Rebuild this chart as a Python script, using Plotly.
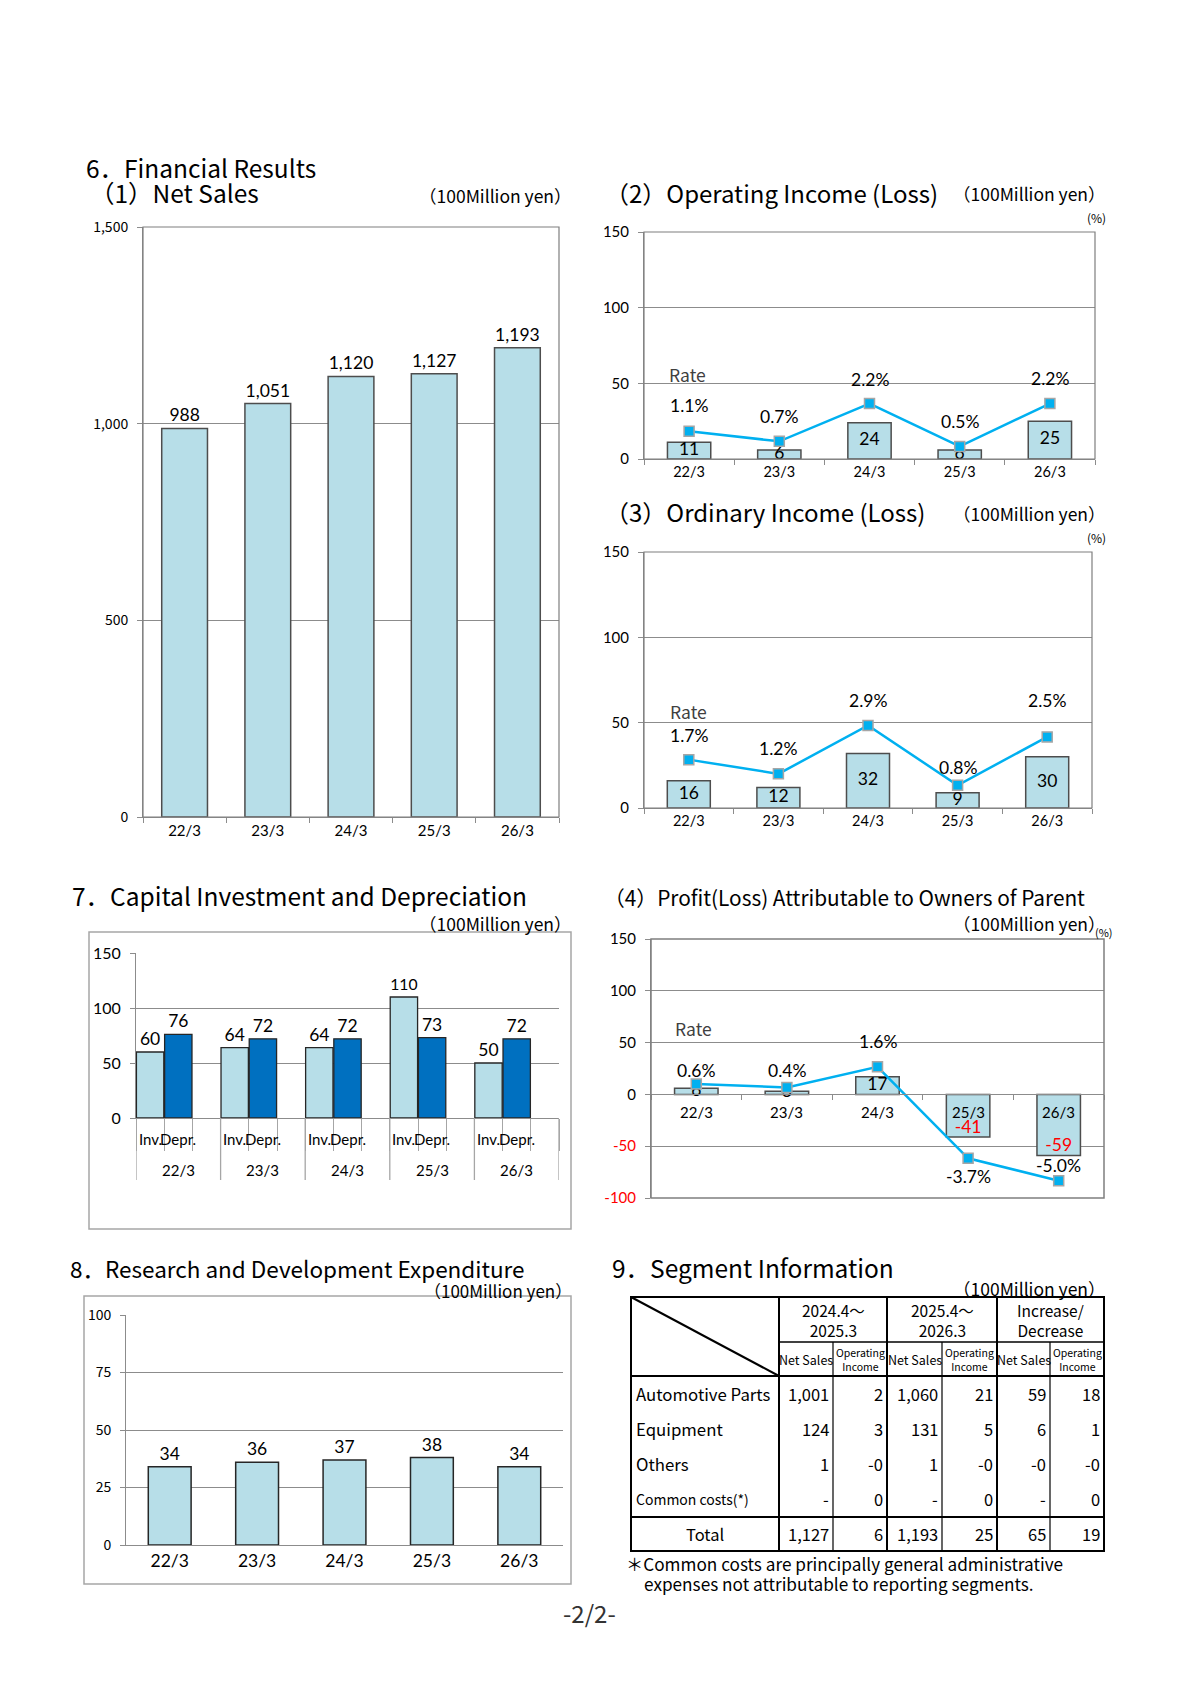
import plotly.graph_objects as go

# page size (the reference is one A4-ish sheet)
W, H = 1190, 1683
# the page body adds a small margin around the plot div
PAGE_OFF = 8

#%% Data
years = ["22/3", "23/3", "24/3", "25/3", "26/3"]

net_sales = [988, 1051, 1120, 1127, 1193]

op_income = [11, 6, 24, 6, 25]
op_rate = [1.1, 0.7, 2.2, 0.5, 2.2]

ord_income = [16, 12, 32, 9, 30]
ord_rate = [1.7, 1.2, 2.9, 0.8, 2.5]

profit = [6, 3, 17, -41, -59]
profit_rate = [0.6, 0.4, 1.6, -3.7, -5.0]

capex_inv = [60, 64, 64, 110, 50]
capex_depr = [76, 72, 72, 73, 72]
capex_sub = ["Inv.", "Depr."]

rnd = [34, 36, 37, 38, 34]

seg_names = ["Automotive Parts", "Equipment", "Others", "Common costs(*)"]
seg_periods = ["2024.4～<br>2025.3", "2025.4～<br>2026.3", "Increase/<br>Decrease"]
seg_sub = ["Net Sales", "Operating<br>Income"]
seg_prev_sales = ["1,001", "124", "1", "-"]
seg_prev_oi = ["2", "3", "-0", "0"]
seg_cur_sales = ["1,060", "131", "1", "-"]
seg_cur_oi = ["21", "5", "-0", "0"]
seg_diff_sales = ["59", "6", "-0", "-"]
seg_diff_oi = ["18", "1", "-0", "0"]
seg_total = ["1,127", "6", "1,193", "25", "65", "19"]

#%% Styles
LIGHT = "#b7dee8"
DARK = "#0070c0"
RATE = "#00b0f0"
EDGE = "#4d4d4d"
GRID = "#8c8c8c"
JP = "Noto Sans CJK JP"
NUM = "Lato"


def px(x):
    return (x - PAGE_OFF) / W


def py(y):
    return 1 - (y - PAGE_OFF) / H


def dom_x(a, b):
    return [px(a), px(b)]


def dom_y(top, bottom):
    return [py(bottom), py(top)]


fig = go.Figure()

# (1) Net sales
fig.add_trace(go.Bar(
    x=years, y=net_sales, xaxis="x", yaxis="y",
    marker=dict(color=LIGHT, line=dict(color=EDGE, width=1.5)),
    width=0.55, text=[f"{v:,}" for v in net_sales], textposition="outside",
    textfont=dict(family=NUM, size=17.5, color="black"), cliponaxis=False,
))


def income_chart(vals, rates, xa, ya, ra):
    fig.add_trace(go.Bar(
        x=years, y=vals, xaxis=xa, yaxis=ya,
        marker=dict(color=LIGHT, line=dict(color=EDGE, width=1.5)),
        width=0.48,
    ))
    pos = ["middle center" if v >= 0 else "top center" for v in vals]
    ty = [v / 2 if v >= 0 else v for v in vals]
    cols = ["black" if v >= 0 else "red" for v in vals]
    fig.add_trace(go.Scatter(
        x=years, y=ty, xaxis=xa, yaxis=ya, mode="text",
        text=[str(v) for v in vals], textposition=pos,
        textfont=dict(family=NUM, size=17.5, color=cols), cliponaxis=False,
    ))
    fig.add_trace(go.Scatter(
        x=years, y=rates, xaxis=xa, yaxis=ra, mode="lines+markers",
        line=dict(color=RATE, width=2.5),
        marker=dict(symbol="square", size=10, color=RATE,
                    line=dict(color="#a6a6a6", width=1.5)),
        cliponaxis=False,
    ))


# (2) operating, (3) ordinary, (4) profit
income_chart(op_income, op_rate, "x2", "y2", "y3")
income_chart(ord_income, ord_rate, "x3", "y4", "y5")
income_chart(profit, profit_rate, "x4", "y6", "y7")

# 7 capital investment: three slots per year (Inv, Depr, blank)
inv_x = [3 * i for i in range(len(years))]
depr_x = [3 * i + 1 for i in range(len(years))]
for xs, vals, col in [(inv_x, capex_inv, LIGHT), (depr_x, capex_depr, DARK)]:
    fig.add_trace(go.Bar(
        x=xs, y=vals, xaxis="x5", yaxis="y8",
        marker=dict(color=col, line=dict(color="#262626", width=1.3)),
        width=0.97, text=[str(v) for v in vals], textposition="outside",
        textfont=dict(family=NUM, size=17.5, color="black"), cliponaxis=False,
    ))

# 8 R&D
fig.add_trace(go.Bar(
    x=years, y=rnd, xaxis="x6", yaxis="y9",
    marker=dict(color=LIGHT, line=dict(color="#262626", width=1.5)),
    width=0.49, text=[str(v) for v in rnd], textposition="outside",
    textfont=dict(family=NUM, size=17.5, color="black"), cliponaxis=False,
))

#%% Axes
cat_x = dict(type="category", showgrid=False, zeroline=False, showline=True,
             linecolor=GRID, ticks="outside", tickson="boundaries", ticklen=5,
             tickcolor=GRID, automargin=False,
             tickfont=dict(family=NUM, size=14.5, color="black"))
val_y = dict(showgrid=True, gridcolor=GRID, gridwidth=1, zeroline=False,
             showline=True, linecolor=GRID, ticks="outside", ticklen=5,
             tickcolor=GRID, automargin=False, ticklabelstandoff=6,
             tickfont=dict(family=NUM, size=15, color="black"))
hidden = dict(showgrid=False, zeroline=False, showline=False, ticks="",
              showticklabels=False, automargin=False)

layout_axes = dict(
    xaxis=dict(cat_x, domain=dom_x(143, 559), anchor="y", tickfont=dict(family=NUM, size=15, color="black")),
    yaxis=dict(val_y, domain=dom_y(227, 817), anchor="x", range=[0, 1500],
               tickvals=[0, 500, 1000, 1500], ticktext=["0", "500", "1,000", "1,500"],
               tickfont=dict(family=JP, size=14, color="black")),
    xaxis2=dict(cat_x, domain=dom_x(644, 1095), anchor="y2"),
    yaxis2=dict(val_y, domain=dom_y(232, 459), anchor="x2", range=[0, 150],
                tickvals=[0, 50, 100, 150]),
    yaxis3=dict(hidden, overlaying="y2", anchor="x2", side="right", range=[0, 9]),
    xaxis3=dict(cat_x, domain=dom_x(644, 1092), anchor="y4"),
    yaxis4=dict(val_y, domain=dom_y(552, 808), anchor="x3", range=[0, 150],
                tickvals=[0, 50, 100, 150]),
    yaxis5=dict(hidden, overlaying="y4", anchor="x3", side="right", range=[0, 9]),
    xaxis4=dict(cat_x, domain=dom_x(651, 1104), anchor="free", position=py(1094),
                showticklabels=False),
    yaxis6=dict(val_y, domain=dom_y(939, 1198), anchor="x4", range=[-100, 150],
                tickvals=[-100, -50, 0, 50, 100, 150],
                ticktext=["<span style='color:red'>-100</span>",
                          "<span style='color:red'>-50</span>", "0", "50", "100", "150"]),
    yaxis7=dict(hidden, overlaying="y6", anchor="x4", side="right", range=[-6, 9]),
    xaxis5=dict(showgrid=False, zeroline=False, showline=True, linecolor=GRID,
                domain=dom_x(136, 559), anchor="y8", range=[-0.5, 14.5],
                tickvals=[k - 0.5 for k in range(16)], ticks="outside",
                ticklen=32, tickcolor="#a6a6a6", showticklabels=False,
                automargin=False),
    yaxis8=dict(val_y, domain=dom_y(953, 1118), anchor="x5", range=[0, 150],
                tickvals=[0, 50, 100, 150], tickfont=dict(family=NUM, size=16, color="black")),
    xaxis6=dict(cat_x, domain=dom_x(126, 563), anchor="y9", ticks="",
                tickfont=dict(family=NUM, size=17.5, color="black")),
    yaxis9=dict(val_y, domain=dom_y(1315, 1545), anchor="x6", range=[0, 100],
                tickvals=[0, 25, 50, 75, 100], tickfont=dict(family=JP, size=14, color="black")),
)

#%% Shapes
shapes = []


def rect(x0, y0, x1, y1, color, width):
    shapes.append(dict(type="rect", xref="paper", yref="paper",
                       x0=px(x0), x1=px(x1), y0=py(y0), y1=py(y1),
                       line=dict(color=color, width=width), layer="above"))


def line(x0, y0, x1, y1, width=1, color="black"):
    shapes.append(dict(type="line", xref="paper", yref="paper",
                       x0=px(x0), x1=px(x1), y0=py(y0), y1=py(y1),
                       line=dict(color=color, width=width)))


# plot frames
rect(143, 227, 559, 817, "#7f7f7f", 1.2)
rect(644, 232, 1095, 459, "#7f7f7f", 1.2)
rect(644, 552, 1092, 808, "#7f7f7f", 1.2)
rect(651, 939, 1104, 1198, "#7f7f7f", 1.5)
# chart boxes
rect(89, 932, 571, 1229, "#a6a6a6", 1.5)
rect(84, 1296, 571, 1584, "#a6a6a6", 1.5)

# group dividers for capital investment
for i in range(len(years) + 1):
    shapes.append(dict(type="line", xref="x5", yref="paper",
                       x0=3 * i - 0.5, x1=3 * i - 0.5, y0=py(1118), y1=py(1180),
                       line=dict(color="#a6a6a6", width=1.3)))

# segment table grid
cx = [631, 779, 833, 887, 942, 997, 1050, 1104]
t_top, t_h1, t_h2, t_tot, t_bot = 1297, 1342, 1376, 1517, 1551
rect(cx[0], t_top, cx[-1], t_bot, "black", 2)
for x in (cx[1], cx[3], cx[5]):
    line(x, t_top, x, t_bot, 2)
for x in (cx[2], cx[4], cx[6]):
    line(x, t_h1, x, t_bot, 1.2)
line(cx[1], t_h1, cx[-1], t_h1, 1.5)
line(cx[0], t_h2, cx[-1], t_h2, 2)
line(cx[0], t_tot, cx[-1], t_tot, 2)
line(cx[0], t_top, cx[1], t_h2, 2)

#%% Annotations
ann = []


def text(x, y, s, size=15, anchor="left", family=JP, color="black", **kw):
    ann.append(dict(xref="paper", yref="paper", x=px(x), y=py(y), text=s,
                    showarrow=False, xanchor=anchor, yanchor="middle",
                    font=dict(family=family, size=size, color=color), **kw))


UNIT = "（100Million yen）"

# titles
text(84, 167, "6．Financial Results", 24.5)
text(88, 192, "（1）Net Sales", 24.5)
text(574, 195, UNIT, 17.5, "right")
text(603, 193, "（2）Operating Income (Loss)", 24)
text(1108, 194, UNIT, 17.5, "right")
text(1096, 218, "(%)", 12, "center")
text(603, 511, "（3）Ordinary Income (Loss)", 24)
text(1108, 513, UNIT, 17.5, "right")
text(1096, 537, "(%)", 12, "center")
text(70, 896, "7．Capital Investment and Depreciation", 24.5)
text(574, 923, UNIT, 17.5, "right")
text(602, 897, "（4）Profit(Loss) Attributable to Owners of Parent", 20.8)
text(1108, 923, UNIT, 17.5, "right")
text(1104, 932, "(%)", 11, "center")
text(68, 1268, "8．Research and Development Expenditure", 22.5)
text(574, 1290, UNIT, 17, "right")
text(610, 1267, "9．Segment Information", 24.5)
text(1108, 1288, UNIT, 17.5, "right")
text(624, 1563, "＊Common costs are principally general administrative", 17.2)
text(642, 1583, "expenses not attributable to reporting segments.", 17.2)
text(589, 1612, "-2/2-", 24, "center", color="#333333")

# "Rate" captions
text(687, 374, "Rate", 17.5, "center", color="#404040")
text(688, 711, "Rate", 17.5, "center", color="#404040")
text(694, 1028, "Rate", 17.5, "center", color="#404040")


def rate_labels(rates, xa, ya, shifts):
    for yr, r, s in zip(years, rates, shifts):
        ann.append(dict(xref=xa, yref=ya, x=yr, y=r, text=f"{r:.1f}%",
                        showarrow=False, yshift=s,
                        font=dict(family=NUM, size=17.5, color="black")))


rate_labels(op_rate, "x2", "y3", [26, 25, 24, 25, 25])
rate_labels(ord_rate, "x3", "y5", [24, 25, 25, 18, 36])
rate_labels(profit_rate, "x4", "y7", [14, 17, 25, -18, 15])

# profit category labels sit on the zero line
for yr in years:
    ann.append(dict(xref="x4", yref="y6", x=yr, y=0, text=yr, showarrow=False,
                    yshift=-18, font=dict(family=NUM, size=15, color="black")))

# capital investment category labels
for i, yr in enumerate(years):
    for k, sub in enumerate(capex_sub):
        ann.append(dict(xref="x5", yref="paper", x=3 * i + k, y=py(1139), text=sub,
                        showarrow=False, yanchor="middle",
                        font=dict(family=NUM, size=15, color="black")))
    ann.append(dict(xref="x5", yref="paper", x=3 * i + 1, y=py(1170), text=yr,
                    showarrow=False, yanchor="middle",
                    font=dict(family=NUM, size=15, color="black")))

# segment table text
for j, p in enumerate(seg_periods):
    text((cx[1 + 2 * j] + cx[3 + 2 * j]) / 2, (t_top + t_h1) / 2, p, 15.5, "center")
    for k, sub in enumerate(seg_sub):
        text((cx[1 + 2 * j + k] + cx[2 + 2 * j + k]) / 2, (t_h1 + t_h2) / 2, sub,
             12.5 if k == 0 else 10.5, "center")

row_h = (t_tot - t_h2) / len(seg_names)
cols = [seg_prev_sales, seg_prev_oi, seg_cur_sales, seg_cur_oi, seg_diff_sales, seg_diff_oi]
for i, name in enumerate(seg_names):
    yc = t_h2 + row_h * (i + 0.5)
    text(cx[0] + 3, yc, name, 14 if i == 3 else 16.8)
    for c, col in enumerate(cols):
        text(cx[c + 2] - 2, yc, col[i], 16.5, "right")
yc = (t_tot + t_bot) / 2
text((cx[0] + cx[1]) / 2, yc, "Total", 16.5, "center")
for c, v in enumerate(seg_total):
    text(cx[c + 2] - 2, yc, v, 16.5, "right")

fig.update_layout(
    width=W, height=H,
    margin=dict(l=0, r=0, t=0, b=0, autoexpand=False),
    paper_bgcolor="white", plot_bgcolor="white",
    showlegend=False, barmode="overlay",
    shapes=shapes, annotations=ann,
    **layout_axes,
)

fig.write_html("out.html")
